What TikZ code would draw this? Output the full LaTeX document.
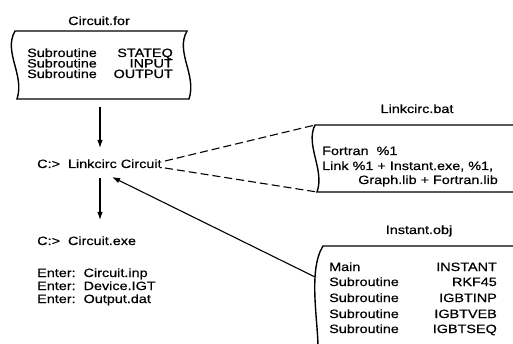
\documentclass[tikz,border=0pt]{standalone}
\usepackage{fontspec}
\setmainfont{Liberation Sans}[FakeStretch=1.2,FakeBold=0.6]
\usetikzlibrary{arrows.meta}
\begin{document}
\begin{tikzpicture}[x=1pt,y=-1pt,
  txt/.style={inner sep=0pt, font=\fontsize{12}{14}\selectfont},
  lt/.style={txt,anchor=base west},
  rt/.style={txt,anchor=base east},
  ct/.style={txt,anchor=base},
  boxline/.style={line width=1.4pt},
  arr/.style={line width=1.1pt,-{Latex[length=8pt,width=5.5pt]}},
  dashline/.style={line width=1.1pt,dash pattern=on 8pt off 4pt}]
\useasboundingbox (0,0) rectangle (513,344);
\begin{scope}
\clip (0,0) rectangle (513,344);
% box 1
\draw[boxline] (15,31) -- (187,31) .. controls (175,52) and (197,75) .. (189,99)
  -- (17,99) .. controls (25,75) and (3,52) .. (15,31) -- cycle;
% box 2
\draw[boxline] (530,125) -- (315,125) .. controls (305,145) and (325,170) .. (317,192) -- (530,192);
% box 3
\draw[boxline] (530,246) -- (323,246) .. controls (308,270) and (318,320) .. (318,348);
\end{scope}
% titles
\node[ct] (t1) at (99,25) {Circuit.for};
\node[ct] (t2) at (417,113) {Linkcirc.bat};
\node[ct] (t3) at (419,234) {Instant.obj};
% box 1 text
\node[lt] (s1) at (27,57) {Subroutine};
\node[lt] (s2) at (27,67.5) {Subroutine};
\node[lt] (s3) at (27,78) {Subroutine};
\node[rt] (r1) at (173,57) {STATEQ};
\node[rt] (r2) at (173,67.5) {INPUT};
\node[rt] (r3) at (173,78) {OUTPUT};
% commands
\node[lt] (link) at (37,168) {C:>\ \ Linkcirc Circuit};
\node[lt] (exe) at (37,245) {C:>\ \ Circuit.exe};
\node[lt] (e1) at (37,277) {Enter:\ \ Circuit.inp};
\node[lt] (e2) at (37,290) {Enter:\ \ Device.IGT};
\node[lt] (e3) at (37,303) {Enter:\ \ Output.dat};
% box 2 text
\node[lt] (f1) at (322,155) {Fortran\ \ \%1};
\node[lt] (f2) at (322,170) {Link \%1 + Instant.exe, \%1,};
\node[lt] (f3) at (358,184) {Graph.lib + Fortran.lib};
% box 3 text
\node[lt] (m1) at (329,271) {Main};
\node[lt] (m2) at (329,286) {Subroutine};
\node[lt] (m3) at (329,302) {Subroutine};
\node[lt] (m4) at (329,318) {Subroutine};
\node[lt] (m5) at (329,333) {Subroutine};
\node[rt] (n1) at (497,271) {INSTANT};
\node[rt] (n2) at (497,286) {RKF45};
\node[rt] (n3) at (497,302) {IGBTINP};
\node[rt] (n4) at (497,318) {IGBTVEB};
\node[rt] (n5) at (497,333) {IGBTSEQ};
% connector ends
\coordinate (b1s) at (100,107);
\coordinate (a1e) at (100,148);
\coordinate (a2s) at (100,178);
\coordinate (a2e) at (100,220);
\coordinate (b3w) at (315,277);
\coordinate (a3e) at (112,177);
\coordinate (d1s) at (165,161);
\coordinate (d1e) at (315,125);
\coordinate (d2s) at (165,168);
\coordinate (d2e) at (317,192);
\draw[arr] (b1s) -- (a1e);
\draw[arr] (a2s) -- (a2e);
\draw[arr] (b3w) -- (a3e);
\draw[dashline] (d1s) -- (d1e);
\draw[dashline] (d2s) -- (d2e);
\end{tikzpicture}
\end{document}
